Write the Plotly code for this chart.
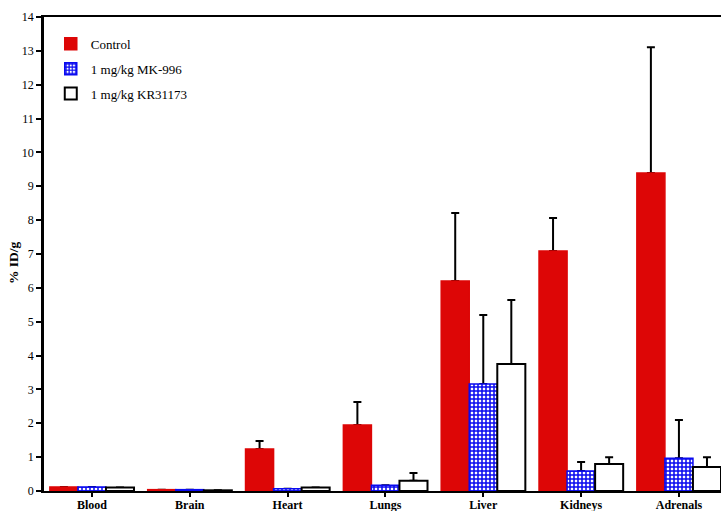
import plotly.graph_objects as go

organs = ["Blood", "Brain", "Heart", "Lungs", "Liver", "Kidneys", "Adrenals"]
series_names = ["Control", "1 mg/kg MK-996", "1 mg/kg KR31173"]
control = [0.12, 0.04, 1.24, 1.95, 6.20, 7.09, 9.39]
control_upper = [None, None, 1.48, 2.63, 8.21, 8.06, 13.11]
mk996 = [0.12, 0.04, 0.07, 0.17, 3.16, 0.59, 0.97]
mk996_upper = [None, None, None, None, 5.20, 0.86, 2.10]
kr31173 = [0.10, 0.02, 0.10, 0.30, 3.75, 0.80, 0.71]
kr31173_upper = [None, None, None, 0.53, 5.64, 1.00, 1.00]
y_ticks = list(range(0, 15))

FONT = "Liberation Serif"
RED = "#dd0606"
BLUE = "#0a0af0"

def err(vals, upper):
    return [(u - v) if u is not None else 0 for v, u in zip(vals, upper)]

styles = [
    dict(marker=dict(color=RED, line=dict(color=RED, width=1.5))),
    dict(marker=dict(color="white", line=dict(color=BLUE, width=1.5),
                     pattern=dict(shape="+", fgcolor=BLUE, bgcolor="white",
                                  size=4, solidity=0.62, fillmode="replace"))),
    dict(marker=dict(color="white", line=dict(color="black", width=2))),
]
data = [(control, control_upper), (mk996, mk996_upper), (kr31173, kr31173_upper)]

fig = go.Figure()

# error bar carriers (drawn underneath the visible bars)
for name, (vals, upper) in zip(series_names, data):
    e = err(vals, upper)
    fig.add_trace(go.Bar(
        x=organs, y=vals, name=name, showlegend=False, hoverinfo="skip",
        marker=dict(color="rgba(0,0,0,0)", line=dict(width=0)),
        error_y=dict(type="data", symmetric=False, array=e,
                     arrayminus=[0] * len(e), color="black",
                     thickness=2, width=4, visible=True),
        xaxis="x", yaxis="y",
    ))

# visible bars
for i, (name, (vals, upper)) in enumerate(zip(series_names, data)):
    fig.add_trace(go.Bar(
        x=organs, y=vals, name=name, legendgroup=name,
        xaxis="x2", yaxis="y2", **styles[i],
    ))

fig.update_layout(
    width=721, height=511,
    margin=dict(l=44, r=0, t=17, b=20),
    paper_bgcolor="white", plot_bgcolor="white",
    barmode="group", bargap=0.14, bargroupgap=0,
    font=dict(family=FONT, color="black", size=12),
    showlegend=True,
    legend=dict(x=0.01, y=0.975, xanchor="left", yanchor="top",
                bgcolor="rgba(0,0,0,0)", font=dict(family=FONT, size=13),
                traceorder="grouped", tracegroupgap=5),
    xaxis=dict(type="category", range=[-0.49, 6.43], showline=True,
               linecolor="black", linewidth=2, mirror=True,
               ticks="outside", ticklen=4, tickwidth=1.5, tickcolor="black",
               tickfont=dict(family=FONT, size=12, weight="bold"),
               ticklabelstandoff=-2,
               showgrid=False, zeroline=False, automargin=False),
    yaxis=dict(range=[0, 14], tickvals=y_ticks, showline=True,
               linecolor="black", linewidth=2.5, ticks="outside", ticklen=5,
               tickwidth=1.5, tickcolor="black",
               tickfont=dict(family=FONT, size=12),
               showgrid=False, zeroline=False, automargin=False),
    xaxis2=dict(type="category", range=[-0.49, 6.43], overlaying="x",
                visible=False, matches="x"),
    yaxis2=dict(range=[0, 14], overlaying="y", visible=False),
    annotations=[dict(text="<b>% ID/g</b>", textangle=-90, x=-0.0458, y=0.483,
                      xref="paper", yref="paper", xanchor="center",
                      yanchor="middle", showarrow=False,
                      font=dict(family=FONT, size=13.5))],
)

fig.write_html("out.html", config={"displayModeBar": False},
               post_script="document.body.style.margin='0';document.body.style.overflow='hidden';")
